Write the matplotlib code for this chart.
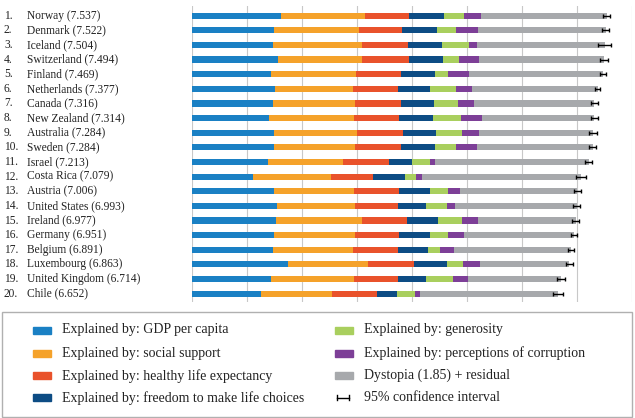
import matplotlib
matplotlib.use('Agg')
import matplotlib.pyplot as plt
import matplotlib.transforms as mtransforms
from matplotlib.patches import Rectangle
import numpy as np

# World Happiness Report 2017 - top 20 countries
countries = ['Norway', 'Denmark', 'Iceland', 'Switzerland', 'Finland',
             'Netherlands', 'Canada', 'New Zealand', 'Australia', 'Sweden',
             'Israel', 'Costa Rica', 'Austria', 'United States', 'Ireland',
             'Germany', 'Belgium', 'Luxembourg', 'United Kingdom', 'Chile']
scores = [7.537, 7.522, 7.504, 7.494, 7.469, 7.377, 7.316, 7.314, 7.284, 7.284,
          7.213, 7.079, 7.006, 6.993, 6.977, 6.951, 6.891, 6.863, 6.714, 6.652]

gdp = [1.616, 1.482, 1.481, 1.565, 1.444, 1.504, 1.479, 1.406, 1.484, 1.494,
       1.375, 1.110, 1.487, 1.546, 1.535, 1.488, 1.464, 1.742, 1.442, 1.253]
social = [1.534, 1.551, 1.611, 1.517, 1.540, 1.429, 1.481, 1.548, 1.510, 1.478,
          1.376, 1.416, 1.460, 1.420, 1.558, 1.473, 1.462, 1.458, 1.497, 1.284]
health = [0.797, 0.793, 0.834, 0.858, 0.809, 0.811, 0.835, 0.817, 0.844, 0.831,
          0.838, 0.759, 0.815, 0.774, 0.810, 0.799, 0.818, 0.845, 0.805, 0.819]
freedom = [0.635, 0.626, 0.627, 0.620, 0.618, 0.585, 0.611, 0.614, 0.602, 0.613,
           0.406, 0.580, 0.568, 0.506, 0.573, 0.563, 0.540, 0.597, 0.508, 0.377]
generosity = [0.362, 0.355, 0.476, 0.291, 0.245, 0.470, 0.436, 0.500, 0.478, 0.385,
              0.330, 0.215, 0.316, 0.393, 0.428, 0.337, 0.232, 0.283, 0.493, 0.327]
corruption = [0.316, 0.401, 0.154, 0.367, 0.383, 0.283, 0.287, 0.383, 0.301, 0.384,
              0.085, 0.100, 0.221, 0.136, 0.298, 0.277, 0.251, 0.318, 0.265, 0.082]
ci_low = [7.480, 7.462, 7.386, 7.426, 7.410, 7.327, 7.248, 7.248, 7.212, 7.224,
          7.147, 6.990, 6.941, 6.932, 6.910, 6.895, 6.831, 6.804, 6.645, 6.565]
ci_high = [7.594, 7.582, 7.622, 7.562, 7.528, 7.427, 7.384, 7.380, 7.356, 7.344,
           7.279, 7.168, 7.071, 7.054, 7.044, 7.007, 6.951, 6.922, 6.784, 6.739]

explained = [gdp, social, health, freedom, generosity, corruption]
dystopia = [s - sum(c[i] for c in explained) for i, s in enumerate(scores)]

labels = ['Explained by: GDP per capita', 'Explained by: social support',
          'Explained by: healthy life expectancy',
          'Explained by: freedom to make life choices',
          'Explained by: generosity', 'Explained by: perceptions of corruption',
          'Dystopia (1.85) + residual']
colors = ['#1a80c4', '#f5a22a', '#e9522b', '#0d4c84', '#a9cf5e', '#7d3f97', '#a7a9ac']

plt.rcParams['font.family'] = ['Liberation Serif', 'DejaVu Serif']

W, H = 635, 418
fig = plt.figure(figsize=(W / 100, H / 100), dpi=100)
ax = fig.add_axes([192 / W, 1 - 302 / H, 440 / W, 296 / H])

y = np.arange(len(countries))
left = np.zeros(len(countries))
for vals, col in zip(explained + [dystopia], colors):
    ax.barh(y, vals, left=left, height=0.42, color=col, zorder=2)
    left += np.array(vals)

sc = np.array(scores)
ax.errorbar(sc, y, xerr=[sc - np.array(ci_low), np.array(ci_high) - sc],
            fmt='none', ecolor='black', elinewidth=1, capsize=1.6, capthick=1, zorder=3)

ax.set_xlim(0, 8)
ax.set_ylim(19.57, -0.66)
ax.set_xticks(np.arange(0, 9))
ax.grid(axis='x', color='#c8c8c8', linewidth=0.8, zorder=0)
ax.tick_params(left=False, bottom=False, labelleft=False, labelbottom=False)
for sp in ax.spines.values():
    sp.set_visible(False)

trans = mtransforms.blended_transform_factory(fig.transFigure, ax.transData)
for i, (c, s) in enumerate(zip(countries, scores)):
    ax.text(4 / W, i, f'{i + 1}.', transform=trans, ha='left', va='center',
            fontsize=8.3, color='#222222')
    ax.text(27 / W, i, f'{c} ({s:.3f})', transform=trans, ha='left', va='center',
            fontsize=8.3, color='#222222')

# legend box
fig.patches.append(Rectangle((2 / W, 1 - 417 / H), 630 / W, 105 / H,
                             transform=fig.transFigure, fill=False,
                             edgecolor='#b0b0b0', linewidth=1))
rows = [330, 353.5, 375.7, 397.7]
for k, (lab, col) in enumerate(zip(labels, colors)):
    c, r = divmod(k, 4)
    px = 33 if c == 0 else 335
    yy = 1 - rows[r] / H
    fig.patches.append(Rectangle((px / W, yy - 3.5 / H), 18 / W, 7 / H,
                                 transform=fig.transFigure, color=col))
    fig.text((px + 29) / W, yy, lab, ha='left', va='center', fontsize=10,
             color='#222222')
yy = 1 - rows[3] / H
fig.add_artist(plt.Line2D([337 / W, 349 / W], [yy, yy], color='black', lw=1,
                          transform=fig.transFigure))
for xx in (337, 349):
    fig.add_artist(plt.Line2D([xx / W, xx / W], [yy - 2.5 / H, yy + 2.5 / H],
                              color='black', lw=1, transform=fig.transFigure))
fig.text(364 / W, yy, '95% confidence interval', ha='left', va='center',
         fontsize=10, color='#222222')

fig.savefig('out.png', dpi=100)
